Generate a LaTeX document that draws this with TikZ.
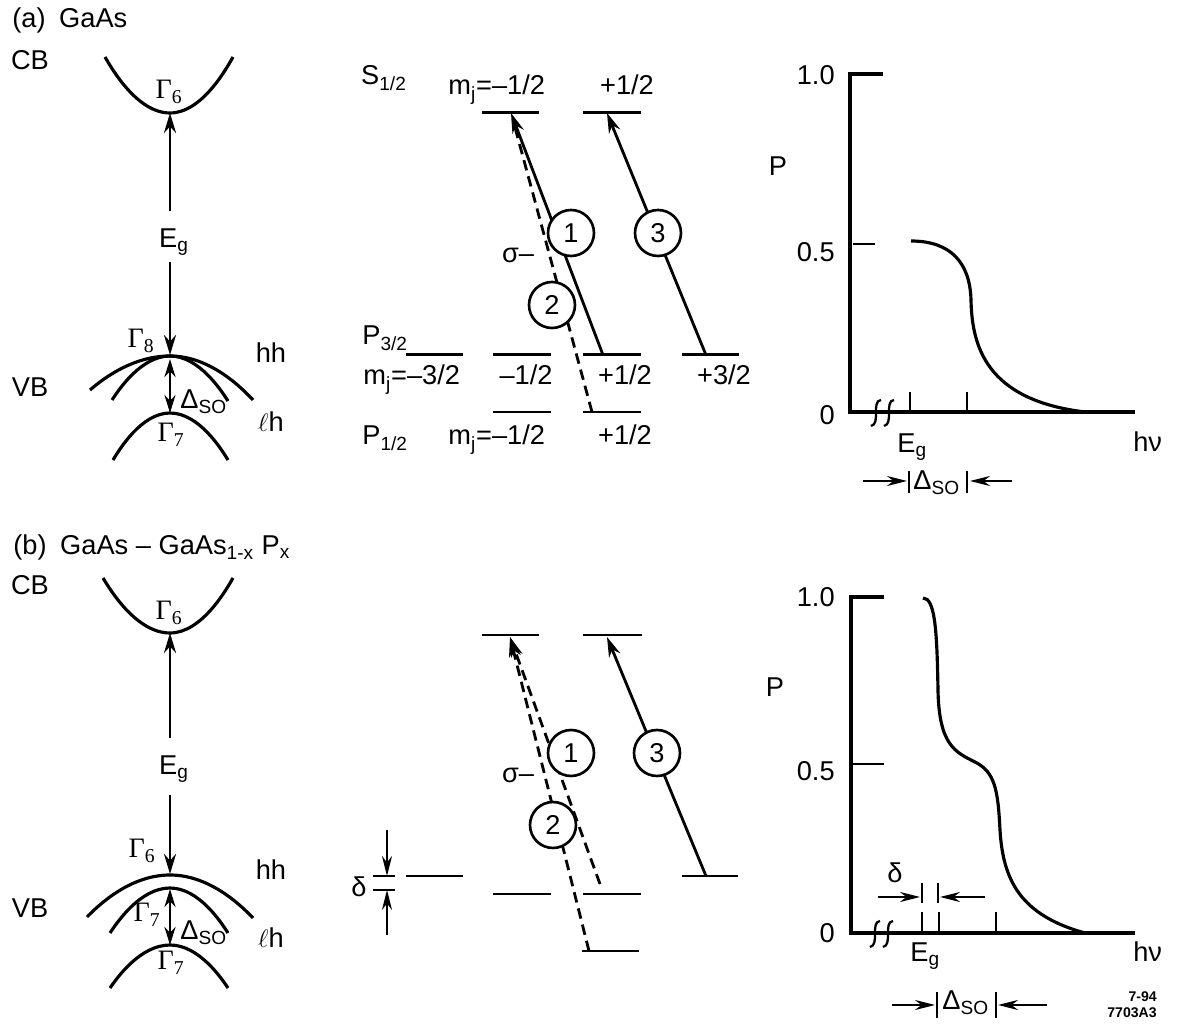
\documentclass[tikz,border=0pt]{standalone}
\usepackage{amsmath}
\usepackage[no-math]{fontspec}
\setmainfont{Liberation Sans}
\newfontfamily\gamfont{Liberation Serif}
\usepackage{tikz}
\usetikzlibrary{arrows.meta, positioning}
\newcommand{\lsub}[1]{\ensuremath{_{\text{#1}}}}
\newcommand{\Gam}[1]{{\gamfont\fontsize{16}{18}\selectfont Γ\ensuremath{_{\text{\gamfont #1}}}}}

\begin{document}
\begin{tikzpicture}[x=0.02cm, y=-0.02cm, font=\fontsize{15.5}{18}\selectfont]
    % Define styles
    \tikzset{
        bandline/.style={line width=1.8pt},
        lvl/.style={line width=1.7pt},
        arr/.style={line width=1.6pt, -{Stealth[length=0.4cm, width=0.24cm]}},
        dblarr/.style={line width=1.6pt, {Stealth[length=0.36cm, width=0.22cm]}-{Stealth[length=0.36cm, width=0.22cm]}},
        trans/.style={line width=1.6pt, -{Stealth[length=0.4cm, width=0.24cm]}},
        dtrans/.style={trans, dash pattern=on 6pt off 3.5pt},
        dline/.style={line width=1.6pt, dash pattern=on 6pt off 3.5pt},
        num/.style={circle, draw, line width=1.5pt, fill=white, minimum size=0.92cm, inner sep=0pt},
        lab/.style={inner sep=0pt, anchor=base},
        labl/.style={inner sep=0pt, anchor=base west},
        labr/.style={inner sep=0pt, anchor=base east},
        axisline/.style={line width=1.8pt},
        curveline/.style={line width=1.8pt},
        tickmark/.style={line width=1.4pt},
        dimarr/.style={line width=1.2pt, -{Stealth[length=0.4cm, width=0.2cm]}},
        brk/.style={line width=1.3pt}
    }
    \useasboundingbox (0,0) rectangle (1178,1026);

    % ---------- (a) GaAs: bands ----------
    \node[labl] (titleA) at (12,28) {(a)\enspace GaAs};
    \node[lab] (cbA) at (30,70) {CB};
    \node[lab] (vbA) at (30,397) {VB};
    \draw[bandline] (105,57) parabola bend (170,113) (233,57);
    \draw[bandline] (90,390) parabola bend (170,356) (253,400);
    \draw[bandline] (112,400) parabola bend (170,356) (228,401);
    \draw[bandline] (113,460) parabola bend (170,413) (228,460);
    \coordinate (cbminA) at (170,113);
    \coordinate (g8topA) at (170,355);
    \coordinate (g8botA) at (170,359);
    \coordinate (g7topA) at (170,413);
    \coordinate (egupA) at (170,211);
    \coordinate (egdnA) at (170,262);
    \node[lab] (g6A) at (169,99) {\Gam{6}};
    \node[lab] (egA) at (174,248) {E\lsub{g}};
    \node[lab] (g8A) at (141,348) {\Gam{8}};
    \node[labl] (soA) at (180,409) {Δ\lsub{SO}};
    \node[lab] (g7A) at (171,442) {\Gam{7}};
    \node[lab] (hhA) at (271,363) {hh};
    \node[lab] (lhA) at (271,432) {$\ell$h};
    \draw[arr] (egupA) -- (cbminA);
    \draw[arr] (egdnA) -- (g8topA);
    \draw[dblarr] (g8botA) -- (g7topA);

    % ---------- (a) GaAs: levels ----------
    \node[lab] (s12A) at (384,85) {S\lsub{1/2}};
    \node[labl] (mjsA) at (448,95) {m\lsub{j}=–1/2};
    \node[lab] (mjsB) at (627,95) {+1/2};
    \node[labl] (p32A) at (362,345) {P\lsub{3/2}};
    \node[labl] (mjpA) at (363,385) {m\lsub{j}=–3/2};
    \node[lab] (mjpB) at (526,385) {–1/2};
    \node[lab] (mjpC) at (625,385) {+1/2};
    \node[lab] (mjpD) at (724,385) {+3/2};
    \node[labl] (p12A) at (362,445) {P\lsub{1/2}};
    \node[labl] (mjqA) at (448,445) {m\lsub{j}=–1/2};
    \node[lab] (mjqB) at (625,445) {+1/2};
    \draw[lvl] (482,113) -- (539,113);
    \draw[lvl] (583,113) -- (641,113);
    \draw[lvl] (406,355) -- (463,355);
    \draw[lvl] (493,355) -- (551,355);
    \draw[lvl] (583,355) -- (641,355);
    \draw[lvl] (682,355) -- (739,355);
    \draw[lvl] (493,412) -- (551,412);
    \draw[lvl] (583,412) -- (641,412);
    \coordinate (t1botA) at (603,355);
    \coordinate (t1topA) at (511,113);
    \coordinate (t2botA) at (592,412);
    \coordinate (t2topA) at (513,120);
    \coordinate (t3botA) at (706,355);
    \coordinate (t3topA) at (607,113);
    \draw[dline] (t2botA) -- (t2topA);
    \draw[trans] (t1botA) -- (t1topA);
    \draw[trans] (t3botA) -- (t3topA);
    \node[num] (c1A) at (571,233) {1};
    \node[num] (c2A) at (552,305) {2};
    \node[num] (c3A) at (658,233) {3};
    \node[lab] (sigA) at (518,263) {σ–};

    % ---------- (a) GaAs: polarization ----------
    \draw[axisline] (883,74) -- (850,74) -- (850,412) -- (1135,412);
    \draw[tickmark] (853,244) -- (875,244);
    \draw[tickmark] (910,392) -- (910,412);
    \draw[tickmark] (967,392) -- (967,412);
    \foreach \bx in {876,889}
        \draw[brk] (\bx+5,400) .. controls (\bx-5,401) and (\bx+5,424) .. (\bx-5,426);
    \draw[curveline] (911,241) .. controls (950,241) and (970,262) .. (971,300)
        .. controls (972,345) and (985,400) .. (1085,412);
    \node[labr] (one0A) at (835,85) {1.0};
    \node[labr] (half0A) at (835,262) {0.5};
    \node[labr] (zeroA) at (835,425) {0};
    \node[lab] (pA) at (778,176) {P};
    \node[labl] (egxA) at (897,453) {E\lsub{g}};
    \node[labl] (hnuA) at (1133,452) {hν};
    \node[labl] (soxA) at (913,490) {Δ\lsub{SO}};
    \coordinate (sol1A) at (863,481);
    \coordinate (sol2A) at (907,481);
    \coordinate (sor1A) at (1012,481);
    \coordinate (sor2A) at (970,481);
    \draw[tickmark] (909,471) -- (909,493);
    \draw[tickmark] (967,471) -- (967,493);
    \draw[dimarr] (sol1A) -- (sol2A);
    \draw[dimarr] (sor1A) -- (sor2A);

    % ---------- (b) GaAs - GaAsP: bands ----------
    \node[labl] (titleB) at (13,555) {(b)\enspace GaAs – GaAs\lsub{1-x} P\lsub{x}};
    \node[lab] (cbB) at (30,595) {CB};
    \node[lab] (vbB) at (30,918) {VB};
    \draw[bandline] (103,578) parabola bend (170,633) (233,578);
    \draw[bandline] (87,917) parabola bend (170,875) (253,918);
    \draw[bandline] (110,933) parabola bend (170,888) (228,933);
    \draw[bandline] (110,988) parabola bend (170,945) (228,988);
    \coordinate (cbminB) at (170,633);
    \coordinate (g6topB) at (170,874);
    \coordinate (g7upB) at (170,889);
    \coordinate (g7botB) at (170,945);
    \coordinate (egupB) at (170,738);
    \coordinate (egdnB) at (170,795);
    \node[lab] (g6B) at (169,620) {\Gam{6}};
    \node[lab] (egB) at (174,775) {E\lsub{g}};
    \node[lab] (g6lB) at (142,858) {\Gam{6}};
    \node[lab] (g7iB) at (147,922) {\Gam{7}};
    \node[labl] (soB) at (180,940) {Δ\lsub{SO}};
    \node[lab] (g7B) at (171,970) {\Gam{7}};
    \node[lab] (hhB) at (271,880) {hh};
    \node[lab] (lhB) at (271,948) {$\ell$h};
    \draw[arr] (egupB) -- (cbminB);
    \draw[arr] (egdnB) -- (g6topB);
    \draw[dblarr] (g7upB) -- (g7botB);

    % ---------- (b) GaAs - GaAsP: levels ----------
    \draw[lvl] (482,635) -- (539,635);
    \draw[lvl] (583,635) -- (642,635);
    \draw[lvl] (406,876) -- (463,876);
    \draw[lvl] (682,876) -- (738,876);
    \draw[lvl] (493,894) -- (551,894);
    \draw[lvl] (583,894) -- (641,894);
    \draw[lvl] (582,951) -- (639,951);
    \draw[tickmark] (373,876) -- (395,876);
    \draw[tickmark] (373,890) -- (395,890);
    \coordinate (dtopB) at (387,830);
    \coordinate (dupB) at (387,876);
    \coordinate (dbotB) at (387,935);
    \coordinate (ddnB) at (387,890);
    \draw[dimarr] (dtopB) -- (dupB);
    \draw[dimarr] (dbotB) -- (ddnB);
    \node[lab] (deltaB) at (359,897) {δ};
    \coordinate (t1botB) at (600,884);
    \coordinate (t2botB) at (589,951);
    \coordinate (t12topB) at (510,637);
    \coordinate (t3botB) at (706,876);
    \coordinate (t3topB) at (607,637);
    \draw[dtrans] (t1botB) -- (t12topB);
    \draw[dtrans] (t2botB) -- (t12topB);
    \draw[trans] (t3botB) -- (t3topB);
    \node[num] (c1B) at (571,753) {1};
    \node[num] (c2B) at (553,825) {2};
    \node[num] (c3B) at (657,753) {3};
    \node[lab] (sigB) at (518,783) {σ–};

    % ---------- (b) GaAs - GaAsP: polarization ----------
    \draw[axisline] (884,597) -- (851,597) -- (851,933) -- (1135,933);
    \draw[tickmark] (851,764) -- (884,764);
    \draw[tickmark] (922,912) -- (922,933);
    \draw[tickmark] (939,912) -- (939,933);
    \draw[tickmark] (996,912) -- (996,933);
    \foreach \bx in {875,888}
        \draw[brk] (\bx+5,921) .. controls (\bx-5,922) and (\bx+5,945) .. (\bx-5,947);
    \draw[curveline] (923,598) .. controls (935,598) and (937,630) .. (938,690)
        .. controls (939,745) and (955,752) .. (975,762)
        .. controls (995,772) and (998,790) .. (1000,830)
        .. controls (1003,880) and (1020,915) .. (1085,933);
    \node[labr] (one0B) at (835,607) {1.0};
    \node[labr] (half0B) at (835,781) {0.5};
    \node[labr] (zeroB) at (835,943) {0};
    \node[lab] (pB) at (775,697) {P};
    \node[lab] (deltaxB) at (895,883) {δ};
    \draw[tickmark] (922,883) -- (922,903);
    \draw[tickmark] (938,883) -- (938,903);
    \coordinate (dl1B) at (878,897);
    \coordinate (dl2B) at (920,897);
    \coordinate (dr1B) at (985,897);
    \coordinate (dr2B) at (940,897);
    \draw[dimarr] (dl1B) -- (dl2B);
    \draw[dimarr] (dr1B) -- (dr2B);
    \node[labl] (egxB) at (910,962) {E\lsub{g}};
    \node[labl] (hnuB) at (1133,962) {hν};
    \node[labl] (soxB) at (942,1010) {Δ\lsub{SO}};
    \draw[tickmark] (937,992) -- (937,1018);
    \draw[tickmark] (996,992) -- (996,1018);
    \coordinate (sol1B) at (892,1005);
    \coordinate (sol2B) at (935,1005);
    \coordinate (sor1B) at (1047,1005);
    \coordinate (sor2B) at (998,1005);
    \draw[dimarr] (sol1B) -- (sol2B);
    \draw[dimarr] (sor1B) -- (sor2B);
    \node[labr, font=\fontsize{8}{9}\selectfont\bfseries] (dateB) at (1157,1002) {7-94};
    \node[labr, font=\fontsize{8}{9}\selectfont\bfseries] (figB) at (1157,1018) {7703A3};
\end{tikzpicture}
\end{document}
